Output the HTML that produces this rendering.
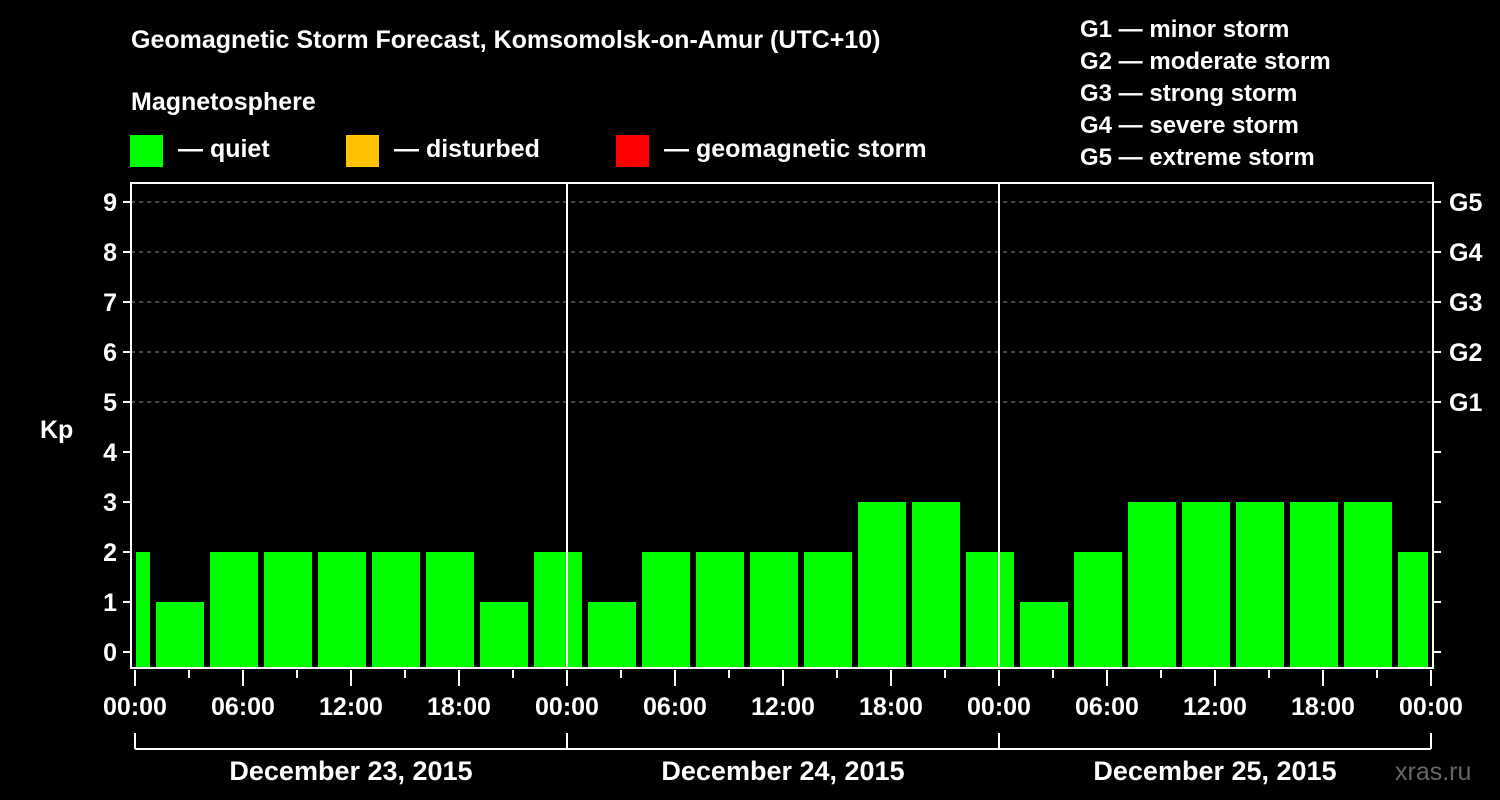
<!DOCTYPE html>
<html><head><meta charset="utf-8"><style>
html,body{margin:0;padding:0;background:#000;}
svg{display:block;font-family:"Liberation Sans",Arial,sans-serif;font-weight:bold;}
</style></head><body>
<svg id="chart" width="1500" height="800" viewBox="0 0 1500 800">
<rect width="1500" height="800" fill="#000"/>
<text x="131" y="48" fill="#fff" font-size="25">Geomagnetic Storm Forecast, Komsomolsk-on-Amur (UTC+10)</text>
<text x="131" y="110" fill="#fff" font-size="25">Magnetosphere</text>
<g><rect x="130" y="135" width="33" height="32" fill="#00ff00"/><text x="178" y="157" fill="#fff" font-size="25">— quiet</text></g>
<g><rect x="346" y="135" width="33" height="32" fill="#ffc000"/><text x="394" y="157" fill="#fff" font-size="25">— disturbed</text></g>
<g><rect x="616" y="135" width="33" height="32" fill="#ff0000"/><text x="664" y="157" fill="#fff" font-size="25">— geomagnetic storm</text></g>
<g fill="#fff" font-size="24">
<text x="1080" y="37">G1 — minor storm</text>
<text x="1080" y="69">G2 — moderate storm</text>
<text x="1080" y="101">G3 — strong storm</text>
<text x="1080" y="133">G4 — severe storm</text>
<text x="1080" y="165">G5 — extreme storm</text>
</g>
<g id="grid"></g>
<g id="bars"></g>
<g id="axes"></g>
<text x="40" y="438" fill="#fff" font-size="25">Kp</text>
<text x="1395" y="780" fill="#666" font-size="25" font-weight="normal">xras.ru</text>
</svg>
<script>
// Kp values per 3-hour slot (slots start at 22:00 Dec 22 local, UTC+10)
const kpValues = [2, 1,2,2,2,2,2,1,2, 1,2,2,2,2,3,3,2, 1,2,3,3,3,3,3,2];
const yTicks = [0,1,2,3,4,5,6,7,8,9];
const stormLabels = ["G1","G2","G3","G4","G5"];
const stormLevels = [5,6,7,8,9];
const hourLabels = ["00:00","06:00","12:00","18:00"];
const dayLabels = ["December 23, 2015","December 24, 2015","December 25, 2015"];

const NS="http://www.w3.org/2000/svg";
const L=131,R=1433,T=183,B=668;
const x0=135, pxPerHour=18;
function xH(h){return x0+h*pxPerHour;}
function yK(k){return 652-k*50;}
function mk(tag,attrs,parent){const e=document.createElementNS(NS,tag);for(const k in attrs)e.setAttribute(k,attrs[k]);parent.appendChild(e);return e;}
const grid=document.getElementById('grid'),bars=document.getElementById('bars'),axes=document.getElementById('axes');

stormLevels.forEach((lv,i)=>{
  const ln=mk('line',{x1:L,x2:R,y1:yK(lv),y2:yK(lv),stroke:'#888','stroke-dasharray':'4,4','stroke-width':1},grid);
  
  
  const t=mk('text',{x:1449,y:yK(lv)+9,fill:'#fff','font-size':25},axes);
  t.textContent=stormLabels[i];
  
  
});

kpValues.forEach((v,i)=>{
  const s=-2+i*3;
  let a=xH(s)+3, b=xH(s+3)-3;
  a=Math.max(a,136); b=Math.min(b,1428);
  const r=mk('rect',{x:a,y:yK(v),width:b-a,height:B-yK(v),fill:'#00ff00'},bars);
  
  
});

// frame
mk('rect',{x:L,y:T,width:R-L,height:B-T,fill:'none',stroke:'#fff','stroke-width':2},axes);
// day dividers
[1,2].forEach(d=>{
  const ln=mk('line',{x1:xH(24*d),x2:xH(24*d),y1:T,y2:B,stroke:'#fff','stroke-width':2},axes);
  
  
});
yTicks.forEach(k=>{
  mk('line',{x1:L-8,x2:L,y1:yK(k),y2:yK(k),stroke:'#fff','stroke-width':2},axes);
  mk('line',{x1:R,x2:R+8,y1:yK(k),y2:yK(k),stroke:'#fff','stroke-width':2},axes);
  const t=mk('text',{x:117,y:yK(k)+9,fill:'#fff','font-size':25,'text-anchor':'end'},axes);
  t.textContent=k;
  
  
});
for(let h=0;h<=72;h+=3){
  const major=h%6===0;
  mk('line',{x1:xH(h),x2:xH(h),y1:B+2,y2:B+(major?18:10),stroke:'#fff','stroke-width':2},axes);
  if(major){
    const t=mk('text',{x:xH(h),y:715,fill:'#fff','font-size':25,'text-anchor':'middle'},axes);
    t.textContent=hourLabels[(h/6)%4];
    
    
  }
}
mk('line',{x1:xH(0),x2:xH(72),y1:749,y2:749,stroke:'#fff','stroke-width':2},axes);
for(let d=0;d<=3;d++) mk('line',{x1:xH(24*d),x2:xH(24*d),y1:733,y2:749,stroke:'#fff','stroke-width':2},axes);
dayLabels.forEach((lb,d)=>{
  const t=mk('text',{x:xH(24*d+12),y:780,fill:'#fff','font-size':27,'text-anchor':'middle'},axes);
  t.textContent=lb;
  
  
});
</script>
</body></html>
